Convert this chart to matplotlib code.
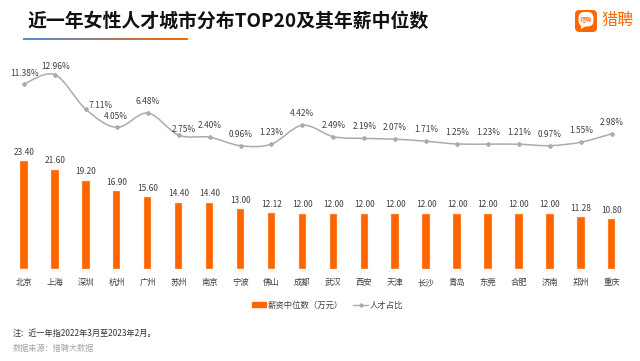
import numpy as np
import matplotlib
matplotlib.use('Agg')
import matplotlib.pyplot as plt
from matplotlib.path import Path
from matplotlib.patches import PathPatch, FancyBboxPatch, Patch, Polygon
from matplotlib.lines import Line2D

plt.rcParams['font.family'] = ['Noto Sans CJK SC', 'DejaVu Sans']

W, H = 640, 361

cities = ['北京', '上海', '深圳', '杭州', '广州', '苏州', '南京', '宁波', '佛山', '成都',
          '武汉', '西安', '天津', '长沙', '青岛', '东莞', '合肥', '济南', '郑州', '重庆']
salary = [23.40, 21.60, 19.20, 16.90, 15.60, 14.40, 14.40, 13.00, 12.12, 12.00,
          12.00, 12.00, 12.00, 12.00, 12.00, 12.00, 12.00, 12.00, 11.28, 10.80]
share = [11.38, 12.96, 7.11, 4.05, 6.48, 2.75, 2.40, 0.96, 1.23, 4.42,
         2.49, 2.19, 2.07, 1.71, 1.25, 1.23, 1.21, 0.97, 1.55, 2.98]

ORANGE = '#FF6600'
GREY = '#ABABAB'
TEXT = '#404040'
PX = 0.72  # points per pixel at dpi 100
LABEL_SIZE = 6.0

fig = plt.figure(figsize=(W / 100, H / 100), dpi=100, facecolor='white')


def px_axes(left, top, right, bottom):
    return fig.add_axes([left / W, 1 - bottom / H, (right - left) / W, (bottom - top) / H])


# bars and line share one x range, separate y scales
ax = px_axes(8.5, 60, 627.2, 269.3)
ax.set_xlim(-0.5, 19.5)
ax.set_ylim(0, 209.3 / 4.62)
x = np.arange(len(cities))
ax.bar(x, salary, width=0.24, color=ORANGE, edgecolor='#FFD9BF', linewidth=0.3)
for xi, v in zip(x, salary):
    ax.annotate(f'{v:.2f}', (xi, v), xytext=(0, 9 * PX), textcoords='offset points',
                ha='center', va='center', fontsize=LABEL_SIZE, color=TEXT)
ax.set_xticks(x, cities, fontsize=LABEL_SIZE, color=TEXT)
ax.tick_params(axis='x', length=0, pad=6.2)
ax.set_yticks([])
for s in ax.spines.values():
    s.set_visible(False)
ax.patch.set_alpha(0)

ax2 = ax.twinx()
ax2.set_ylim(-19.92, 15.44)
ax2.set_yticks([])
for s in ax2.spines.values():
    s.set_visible(False)

# smoothed line the way spreadsheet charts do it: bezier segments through the points
y = np.array(share)
verts = [(x[0], y[0])]
codes = [Path.MOVETO]
for i in range(len(x) - 1):
    p0 = max(i - 1, 0)
    p3 = min(i + 2, len(x) - 1)
    c1 = (x[i] + (x[i + 1] - x[p0]) / 6, y[i] + (y[i + 1] - y[p0]) / 6)
    c2 = (x[i + 1] - (x[p3] - x[i]) / 6, y[i + 1] - (y[p3] - y[i]) / 6)
    verts += [c1, c2, (x[i + 1], y[i + 1])]
    codes += [Path.CURVE4] * 3
ax2.add_patch(PathPatch(Path(verts, codes), fill=False, edgecolor=GREY, linewidth=1.1))
ax2.plot(x, share, linestyle='none', marker='D', markersize=2.0, color=GREY)

# label offsets in pixels, most sit 11.5 above their point
share_offsets = {0: (1, 11), 1: (1, 8), 2: (15, 4), 3: (-1, 11), 5: (5.5, 6)}
for i, (xi, v) in enumerate(zip(x, share)):
    dx, dy = share_offsets.get(i, (0, 11.5))
    ax2.annotate(f'{v:.2f}%', (xi, v), xytext=(dx * PX, dy * PX), textcoords='offset points',
                 ha='center', va='center', fontsize=LABEL_SIZE, color=TEXT)

# legend
handles = [Patch(color=ORANGE), Line2D([], [], color=GREY, lw=1, marker='D', markersize=1.8)]
fig.legend(handles, ['薪资中位数（万元）', '人才占比'], loc='center',
           bbox_to_anchor=(327.5 / W, 1 - 305 / H), ncol=2, frameon=False, fontsize=LABEL_SIZE,
           labelcolor=TEXT, handlelength=1.7, handleheight=0.5, handletextpad=0.2, columnspacing=1.2)

# title and gradient rule
fig.text(28 / W, 1 - 21.5 / H, '近一年女性人才城市分布TOP20及其年薪中位数', fontsize=13.6,
         fontweight='bold', color='#111111', va='center', ha='left')
rule = px_axes(23, 38, 188, 40)
rule.axis('off')
blue = np.array([0x4A, 0x90, 0xE2]) / 255
org = np.array([0xFF, 0x66, 0x00]) / 255
t = np.linspace(0, 1, 165)[:, None]
rule.imshow((blue * (1 - t) + org * t)[None, :, :], aspect='auto', interpolation='nearest')

# notes
fig.text(13 / W, 1 - 333 / H, '注：近一年指2022年3月至2023年2月。', fontsize=5.9, color='#333333', va='center')
fig.text(13 / W, 1 - 348 / H, '数据来源：猎聘大数据', fontsize=5.9, color='#A6A6A6', va='center')

# logo
logo = px_axes(0, 0, W, H)
logo.set_xlim(0, W)
logo.set_ylim(H, 0)
logo.axis('off')
logo.patch.set_alpha(0)
logo.add_patch(FancyBboxPatch((578, 13), 16, 16, boxstyle='round,pad=3,rounding_size=4.5',
                              fc=ORANGE, ec='none'))
logo.add_patch(FancyBboxPatch((580.5, 14), 11, 10.5, boxstyle='round,pad=2,rounding_size=6',
                              fc='white', ec='none'))
logo.add_patch(Polygon([(581, 24), (581, 29), (586, 26)], fc='white', ec='none'))
logo.text(586, 19.5, '猎聘', fontsize=4.4, color=ORANGE, ha='center', va='center')
logo.text(618, 21, '猎聘', fontsize=11.6, color=ORANGE, ha='center', va='center', fontweight='medium')

fig.savefig('out.png', dpi=100, facecolor='white')
